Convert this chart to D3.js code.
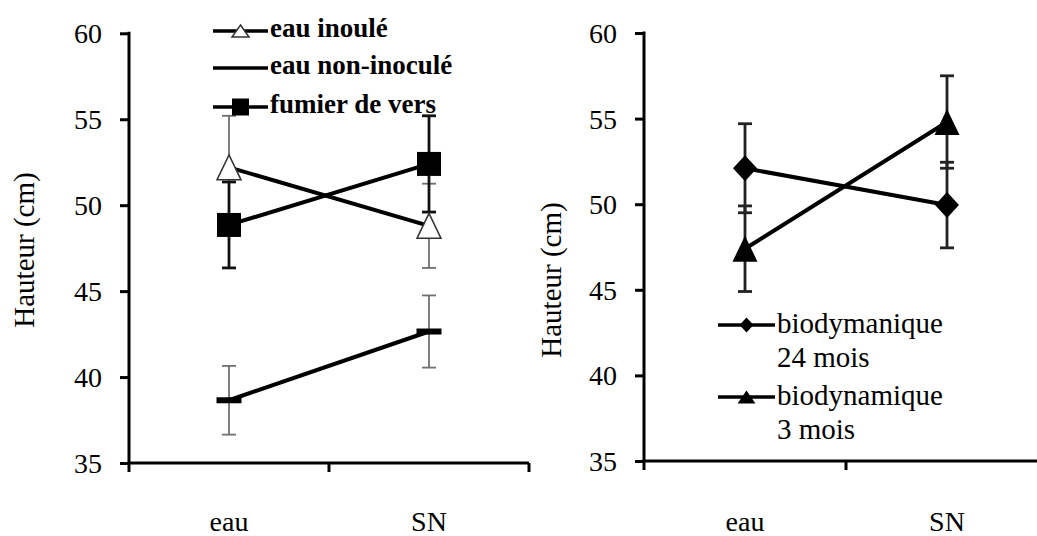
<!DOCTYPE html>
<html>
<head>
<meta charset="utf-8">
<script src="https://cdn.jsdelivr.net/npm/d3@7"></script>
<style>html, body { margin: 0; background: #fff; }</style>
</head>
<body>
<svg id="chart" width="1037" height="536"></svg>
<script>
// Categories and axis ticks shared by both panels
const categories = ["eau", "SN"];
const yTickValues = [35, 40, 45, 50, 55, 60];
const yDomain = [35, 60];
const yTitle = "Hauteur (cm)";

// Left panel: means and error half-widths
const eauInoculeMean = [52.2, 48.8];
const eauInoculeErr = [3.0, 2.45];
const eauNonInoculeMean = [38.65, 42.65];
const eauNonInoculeErr = [2.0, 2.1];
const fumierMean = [48.85, 52.4];
const fumierErr = [2.5, 2.8];
const leftLegendLabels = ["eau inoulé", "eau non-inoculé", "fumier de vers"];

// Right panel: means and error half-widths
const bio24Mean = [52.1, 49.95];
const bio24Err = [2.6, 2.5];
const bio3Mean = [47.4, 54.8];
const bio3Err = [2.5, 2.7];
const rightLegendLabels = [["biodymanique", "24 mois"], ["biodynamique", "3 mois"]];

const svg = d3.select("#chart");
const marks = svg.append("g");
// all labels are collected here and written straight onto the svg at the end
const labels = [];

// Marker shapes centred on the point
function markerPath(shape, w, h) {
  const p = d3.path();
  if (shape === "triangle") {
    p.moveTo(0, -h / 2); p.lineTo(w / 2, h / 2); p.lineTo(-w / 2, h / 2); p.closePath();
  } else if (shape === "diamond") {
    p.moveTo(0, -h / 2); p.lineTo(w / 2, 0); p.lineTo(0, h / 2); p.lineTo(-w / 2, 0); p.closePath();
  } else {
    p.rect(-w / 2, -h / 2, w, h);
  }
  return p.toString();
}

function drawPanel(cfg) {
  const g = marks.append("g");
  const x = d3.scaleBand().domain(categories).range([cfg.x0, cfg.x1]).padding(0);
  const y = d3.scaleLinear().domain(yDomain).range([cfg.yBottom, cfg.yTop]);
  const cx = c => x(c) + x.bandwidth() / 2;

  // y axis (line and ticks; labels drawn separately)
  const yAxis = d3.axisLeft(y).tickValues(yTickValues).tickSize(9).tickSizeOuter(0).tickFormat("");
  const ya = g.append("g").attr("transform", `translate(${cfg.x0},0)`).call(yAxis);
  ya.select(".domain").attr("stroke", "#000").attr("stroke-width", 3)
    .attr("d", `M0,${cfg.yTop - 1.5}V${cfg.yBottom}`);
  ya.selectAll(".tick line").attr("stroke", "#000").attr("stroke-width", 3);
  ya.selectAll(".tick text").remove();
  yTickValues.forEach(v => labels.push({ text: String(v), x: cfg.x0 - 27, y: y(v) + 10, size: 28, anchor: "end" }));

  // x axis with ticks between categories
  const xAxis = d3.axisBottom(x).tickSize(0).tickSizeOuter(0).tickFormat("");
  const xa = g.append("g").attr("transform", `translate(0,${cfg.yBottom})`).call(xAxis);
  xa.select(".domain").attr("stroke", "#000").attr("stroke-width", 3)
    .attr("d", `M${cfg.x0 - 1.5},0H${cfg.x1}`);
  xa.selectAll(".tick text").remove();
  const bounds = categories.map(c => x(c)).concat([cfg.x1]);
  xa.selectAll(".bound").data(bounds).join("line")
    .attr("x1", d => d).attr("x2", d => d).attr("y1", 0).attr("y2", 9)
    .attr("stroke", "#000").attr("stroke-width", 3);
  categories.forEach(c => labels.push({ text: c, x: cx(c), y: cfg.xLabelY, size: 28, anchor: "middle" }));

  // y title
  labels.push({ text: yTitle, x: cfg.titleX, y: cfg.titleY, size: 29, anchor: "middle", rotate: true });

  // series: line, error bars, markers
  cfg.series.forEach(s => {
    const pts = categories.map((c, i) => ({ c, v: s.mean[i], e: s.err[i] }));
    g.append("path").datum(pts)
      .attr("fill", "none").attr("stroke", "#000").attr("stroke-width", 4)
      .attr("d", d3.line().x(d => cx(d.c)).y(d => y(d.v)));
    s.pts = pts;
  });
  cfg.series.forEach(s => {
    const eb = g.append("g");
    s.pts.forEach(d => {
      const px = cx(d.c);
      eb.append("line").attr("x1", px).attr("x2", px)
        .attr("y1", y(d.v + d.e)).attr("y2", y(d.v - d.e))
        .attr("stroke", s.errColor).attr("stroke-width", s.errWidth);
      [d.v + d.e, d.v - d.e].forEach(v => {
        eb.append("line").attr("x1", px - 7).attr("x2", px + 7)
          .attr("y1", y(v)).attr("y2", y(v))
          .attr("stroke", s.errColor).attr("stroke-width", s.errWidth);
      });
    });
  });
  cfg.series.forEach(s => {
    g.selectAll(null).data(s.pts).join("path")
      .attr("transform", d => `translate(${cx(d.c)},${y(d.v)})`)
      .attr("d", markerPath(s.shape, s.mw, s.mh))
      .attr("fill", s.fill).attr("stroke", s.stroke).attr("stroke-width", s.strokeWidth);
  });

  // legend
  cfg.legend.forEach((item, i) => {
    const ly = cfg.legendY[i];
    g.append("line").attr("x1", cfg.legendX0).attr("x2", cfg.legendX1)
      .attr("y1", ly).attr("y2", ly).attr("stroke", "#000").attr("stroke-width", 3.5);
    const s = item.series;
    if (s.shape !== "dash") {
      g.append("path")
        .attr("transform", `translate(${(cfg.legendX0 + cfg.legendX1) / 2},${ly})`)
        .attr("d", markerPath(s.shape, s.lw, s.lh))
        .attr("fill", s.fill).attr("stroke", s.stroke).attr("stroke-width", s.strokeWidth);
    }
    const lines = Array.isArray(item.label) ? item.label : [item.label];
    lines.forEach((ln, k) => labels.push({
      text: ln, x: cfg.legendX1 + 2, y: ly + cfg.legendBaseline + k * cfg.legendLineGap,
      size: cfg.legendFont, anchor: "start", weight: cfg.legendWeight
    }));
  });
}

const triOpen = { shape: "triangle", mw: 24, mh: 25, lw: 17, lh: 12, fill: "#fff", stroke: "#333", strokeWidth: 1.5, errColor: "#707070", errWidth: 1.8 };
const dashS = { shape: "dash", mw: 25, mh: 6, fill: "#000", stroke: "none", strokeWidth: 0, errColor: "#707070", errWidth: 1.8 };
const squareS = { shape: "square", mw: 24, mh: 24, lw: 17, lh: 17, fill: "#000", stroke: "none", strokeWidth: 0, errColor: "#111", errWidth: 2.8 };
const diamondS = { shape: "diamond", mw: 24, mh: 26, lw: 14, lh: 15, fill: "#000", stroke: "none", strokeWidth: 0, errColor: "#222", errWidth: 2.8 };
const triFilled = { shape: "triangle", mw: 25, mh: 26, lw: 18, lh: 13, fill: "#000", stroke: "none", strokeWidth: 0, errColor: "#222", errWidth: 2.8 };

const leftSeries = [
  Object.assign({ mean: eauInoculeMean, err: eauInoculeErr }, triOpen),
  Object.assign({ mean: eauNonInoculeMean, err: eauNonInoculeErr }, dashS),
  Object.assign({ mean: fumierMean, err: fumierErr }, squareS)
];
const rightSeries = [
  Object.assign({ mean: bio24Mean, err: bio24Err }, diamondS),
  Object.assign({ mean: bio3Mean, err: bio3Err }, triFilled)
];

drawPanel({
  x0: 129, x1: 529, yTop: 33.3, yBottom: 463, titleX: 34, titleY: 250, xLabelY: 531,
  series: leftSeries,
  legend: leftSeries.map((s, i) => ({ series: s, label: leftLegendLabels[i] })),
  legendY: [31, 68, 107], legendX0: 213, legendX1: 268, legendBaseline: 6,
  legendFont: 27, legendWeight: "bold", legendLineGap: 34
});
drawPanel({
  x0: 644, x1: 1048, yTop: 33, yBottom: 461, titleX: 561, titleY: 280, xLabelY: 531,
  series: rightSeries,
  legend: rightSeries.map((s, i) => ({ series: s, label: rightLegendLabels[i] })),
  legendY: [325, 397], legendX0: 718, legendX1: 775, legendBaseline: 8,
  legendFont: 29, legendWeight: null, legendLineGap: 34
});

// text layer
const txt = svg.selectAll("text").data(labels).join("text")
  .attr("x", d => d.rotate ? 0 : d.x)
  .attr("y", d => d.rotate ? 0 : d.y)
  .attr("transform", d => d.rotate ? `translate(${d.x},${d.y}) rotate(-90)` : null)
  .attr("text-anchor", d => d.anchor)
  .style("font-family", '"Times New Roman"')
  .style("font-size", d => d.size + "px")
  .text(d => d.text);
txt.filter(d => d.weight).style("font-weight", d => d.weight);
</script>
</body>
</html>
